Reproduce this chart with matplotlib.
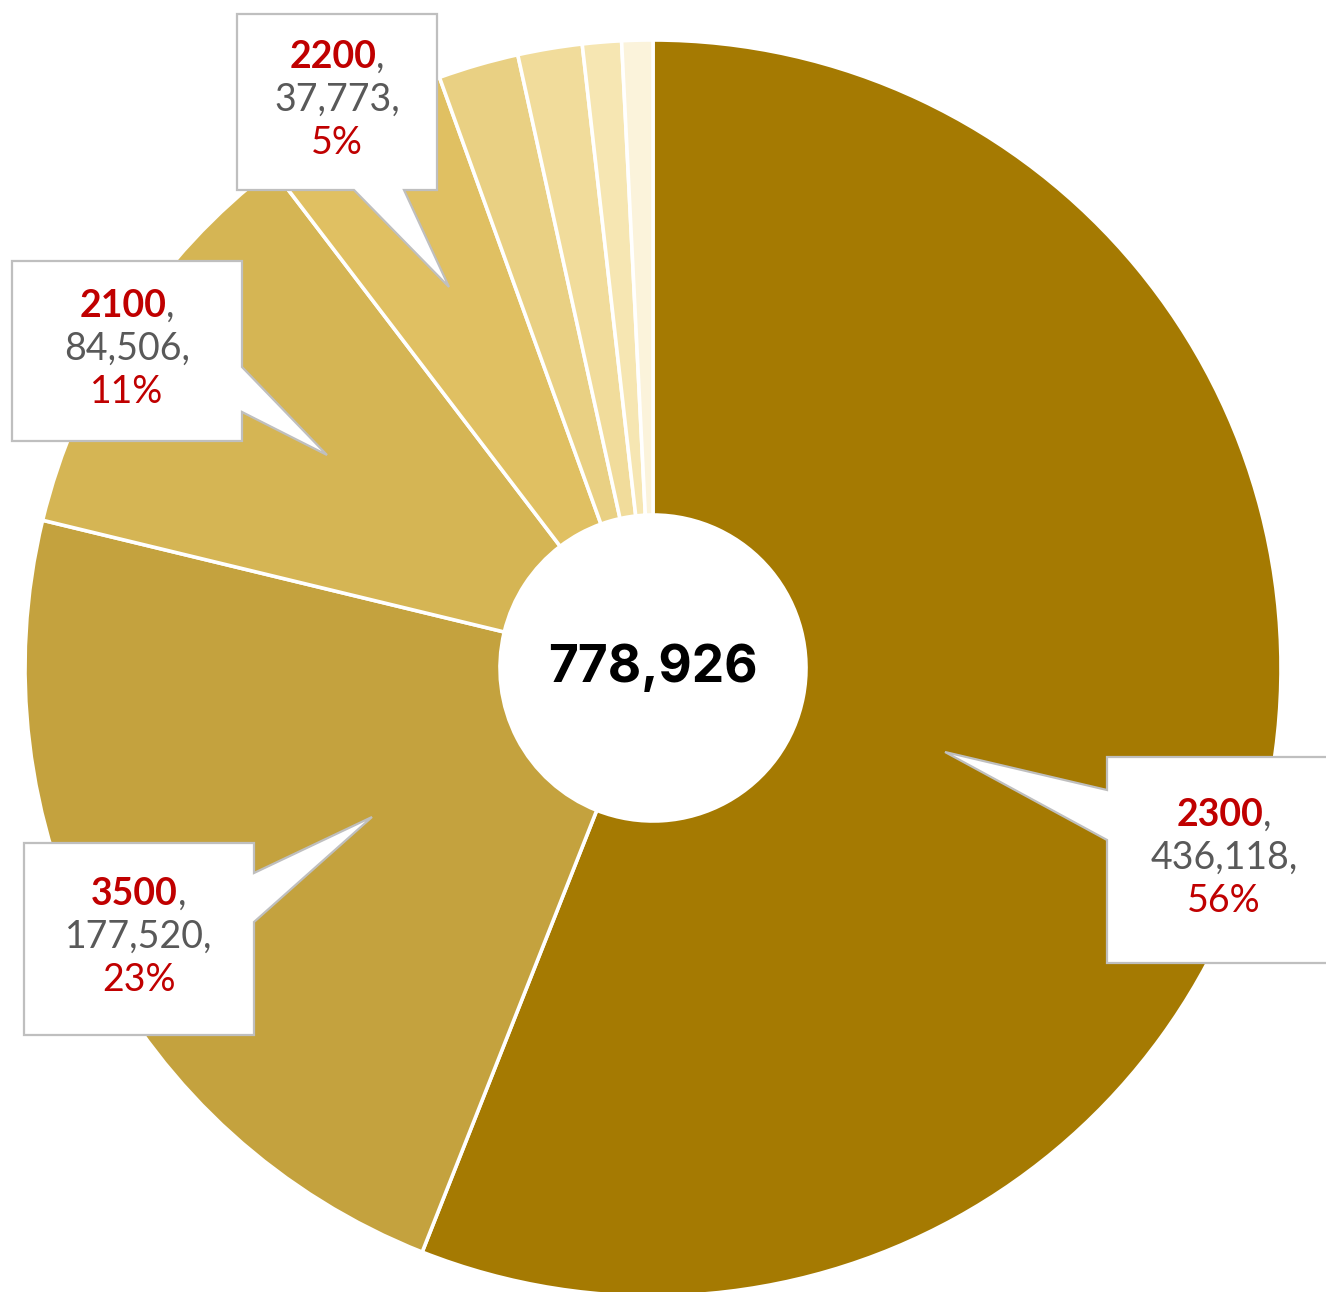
import matplotlib
matplotlib.use("Agg")
import matplotlib.pyplot as plt
from matplotlib.patches import Polygon
from matplotlib.offsetbox import TextArea, HPacker, AnnotationBbox

# Slice data, clockwise from 12 o'clock
categories = ["2300", "3500", "2100", "2200"]
values = [436118, 177520, 84506, 37773]
# Remaining unlabeled slices (smallest groups)
small_values = [16100, 12900, 7800, 6209]

colors = ["#A57A02", "#C4A23E", "#D5B554", "#E0C062",
          "#E9D083", "#F1DC9B", "#F6E6B2", "#FBF3DB"]

RED = "#C00000"
GRAY = "#595959"
EDGE = "#BFBFBF"
FONT = "Lato"

W, H = 1326, 1292
fig = plt.figure(figsize=(W / 100, H / 100), dpi=100)
ax = fig.add_axes([0, 0, 1, 1])

all_values = values + small_values
total = sum(all_values)

# Pixel-like coordinates with y pointing down: counterclock=True runs clockwise on screen
cx, cy, R, r_in = 653, 668, 628, 153
ax.pie(all_values, colors=colors, startangle=-90, counterclock=True,
       center=(cx, cy), radius=R,
       wedgeprops=dict(width=R - r_in, edgecolor="white", linewidth=2.6))
ax.set_xlim(0, W)
ax.set_ylim(H, 0)
ax.set_aspect("equal")
ax.axis("off")

# Total in the donut hole
ax.text(cx, cy, f"{total:,}", ha="center", va="center",
        fontsize=37, fontweight="bold", family="Inter", color="black")

# Callout shapes: box outline with a pointer toward the slice
callouts = [
    [(1107, 757), (1340, 757), (1340, 963), (1107, 963), (1107, 840), (945, 752), (1107, 790)],
    [(24, 843), (254, 843), (254, 873), (372, 817), (254, 922), (254, 1035), (24, 1035)],
    [(12, 261), (242, 261), (242, 367), (327, 455), (242, 412), (242, 441), (12, 441)],
    [(237, 14), (437, 14), (437, 190), (404, 190), (449, 287), (354, 190), (237, 190)],
]
text_centers = [(1224, 858), (139, 937), (127, 349), (337, 100)]

fs = 27
line_gap = 43
for cat, val, poly, (tx, ty) in zip(categories, values, callouts, text_centers):
    ax.add_patch(Polygon(poly, closed=True, facecolor="white", edgecolor=EDGE,
                         linewidth=1.6, joinstyle="miter", zorder=5))
    pct = round(100 * val / total)
    head = HPacker(children=[
        TextArea(cat, textprops=dict(color=RED, fontsize=fs, fontweight="bold", family=FONT)),
        TextArea(",", textprops=dict(color=GRAY, fontsize=fs, family=FONT)),
    ], align="baseline", pad=0, sep=0)
    ab = AnnotationBbox(head, (tx, ty - line_gap), frameon=False, box_alignment=(0.5, 0.5),
                        pad=0, zorder=6)
    ax.add_artist(ab)
    ax.text(tx, ty, f"{val:,},", ha="center", va="center", fontsize=fs,
            color=GRAY, family=FONT, zorder=6)
    ax.text(tx, ty + line_gap, f"{pct}%", ha="center", va="center", fontsize=fs,
            color=RED, family=FONT, zorder=6)

fig.savefig("out.png", dpi=100, facecolor="white")
